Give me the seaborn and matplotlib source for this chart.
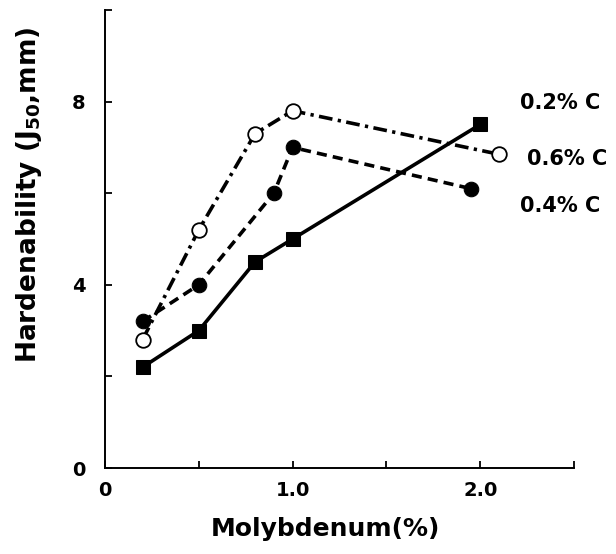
import matplotlib
matplotlib.use("Agg")
import matplotlib.pyplot as plt
import seaborn as sns
import pandas as pd

# Data
mo_02 = [0.2, 0.5, 0.8, 1.0, 2.0]
j50_02 = [2.2, 3.0, 4.5, 5.0, 7.5]

mo_04 = [0.2, 0.5, 0.9, 1.0, 1.95]
j50_04 = [3.2, 4.0, 6.0, 7.0, 6.1]

mo_06 = [0.2, 0.5, 0.8, 1.0, 2.1]
j50_06 = [2.8, 5.2, 7.3, 7.8, 6.85]

series_labels = ["0.2% C", "0.4% C", "0.6% C"]
xtick_labels = ["0", "", "1.0", "", "2.0", ""]
ytick_labels = ["0", "", "4", "", "8", ""]

sns.set_style("ticks")
plt.rcParams["font.family"] = ["DejaVu Sans"]
plt.rcParams["font.weight"] = "bold"
plt.rcParams["text.color"] = "black"
plt.rcParams["axes.labelcolor"] = "black"
plt.rcParams["xtick.color"] = "black"
plt.rcParams["ytick.color"] = "black"
plt.rcParams["axes.edgecolor"] = "black"
plt.rcParams["mathtext.fontset"] = "custom"
plt.rcParams["mathtext.rm"] = "DejaVu Sans:bold"
plt.rcParams["mathtext.bf"] = "DejaVu Sans:bold"
plt.rcParams["mathtext.it"] = "DejaVu Sans:bold"

fig = plt.figure(figsize=(6.16, 5.54), dpi=100)
ax = fig.add_axes([105 / 616, 86 / 554, 469 / 616, 458 / 554])

df02 = pd.DataFrame({"Mo": mo_02, "J": j50_02})
df04 = pd.DataFrame({"Mo": mo_04, "J": j50_04})
df06 = pd.DataFrame({"Mo": mo_06, "J": j50_06})

lw = 2.6
ms = 10.5
sns.lineplot(data=df02, x="Mo", y="J", ax=ax, sort=False, color="black",
             linewidth=lw, linestyle="-", marker="s", markersize=ms - 1,
             markerfacecolor="black", markeredgecolor="black")
sns.lineplot(data=df04, x="Mo", y="J", ax=ax, sort=False, color="black",
             linewidth=lw, dashes=(2.8, 1.7), marker="o", markersize=ms,
             markerfacecolor="black", markeredgecolor="black")
sns.lineplot(data=df06, x="Mo", y="J", ax=ax, sort=False, color="black",
             linewidth=lw, dashes=(3.8, 1.5, 0.9, 1.5), marker="o", markersize=ms,
             markerfacecolor="white", markeredgecolor="black", markeredgewidth=1.3)

ax.set_xlim(0, 2.5)
ax.set_ylim(0, 10)

ax.set_xticks([0, 0.5, 1.0, 1.5, 2.0, 2.5])
ax.set_xticklabels(xtick_labels)
ax.set_yticks([0, 2, 4, 6, 8, 10])
ax.set_yticklabels(ytick_labels)

ax.tick_params(axis="both", direction="in", length=5, width=1.3, labelsize=14,
               colors="black")
ax.tick_params(axis="x", pad=9)
ax.tick_params(axis="y", pad=14)
for lab in ax.get_xticklabels() + ax.get_yticklabels():
    lab.set_fontweight("bold")

for s in ["top", "right"]:
    ax.spines[s].set_visible(False)
for s in ["left", "bottom"]:
    ax.spines[s].set_linewidth(1.4)
    ax.spines[s].set_color("black")

ax.set_xlabel("Molybdenum(%)", fontsize=18, fontweight="bold", color="black")
ax.set_ylabel(r"Hardenability (J$_{50}$,mm)", fontsize=19, fontweight="bold",
              color="black")
ax.xaxis.set_label_coords(0.47, -0.108)
ax.yaxis.set_label_coords(-0.13, 0.596)

ax.text(2.21, 7.96, series_labels[0], fontsize=15, fontweight="bold",
        va="center", ha="left", clip_on=False, color="black")
ax.text(2.25, 6.74, series_labels[2], fontsize=15, fontweight="bold",
        va="center", ha="left", clip_on=False, color="black")
ax.text(2.21, 5.72, series_labels[1], fontsize=15, fontweight="bold",
        va="center", ha="left", clip_on=False, color="black")

fig.savefig("out.png", dpi=100)
